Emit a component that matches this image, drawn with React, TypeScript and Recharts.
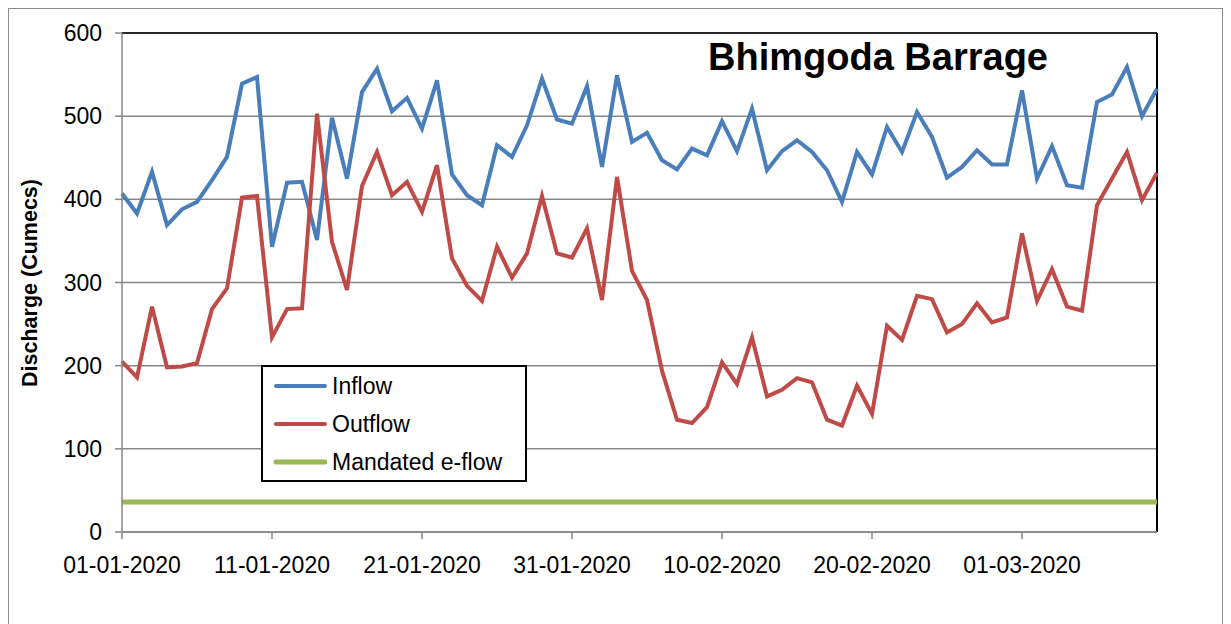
import React from 'react';
import { LineChart, Line, XAxis, YAxis, CartesianGrid, ReferenceLine, Legend } from 'recharts';

const dates = [
  '01-01-2020','02-01-2020','03-01-2020','04-01-2020','05-01-2020','06-01-2020','07-01-2020','08-01-2020','09-01-2020','10-01-2020',
  '11-01-2020','12-01-2020','13-01-2020','14-01-2020','15-01-2020','16-01-2020','17-01-2020','18-01-2020','19-01-2020','20-01-2020',
  '21-01-2020','22-01-2020','23-01-2020','24-01-2020','25-01-2020','26-01-2020','27-01-2020','28-01-2020','29-01-2020','30-01-2020',
  '31-01-2020','01-02-2020','02-02-2020','03-02-2020','04-02-2020','05-02-2020','06-02-2020','07-02-2020','08-02-2020','09-02-2020',
  '10-02-2020','11-02-2020','12-02-2020','13-02-2020','14-02-2020','15-02-2020','16-02-2020','17-02-2020','18-02-2020','19-02-2020',
  '20-02-2020','21-02-2020','22-02-2020','23-02-2020','24-02-2020','25-02-2020','26-02-2020','27-02-2020','28-02-2020','29-02-2020',
  '01-03-2020','02-03-2020','03-03-2020','04-03-2020','05-03-2020','06-03-2020','07-03-2020','08-03-2020','09-03-2020','10-03-2020',
];

const inflow = [
  407, 383, 433, 369, 388, 397, 423, 451, 539, 547, 343, 420, 421, 351, 498, 425, 529, 557,
  506, 522, 485, 543, 430, 405, 393, 465, 451, 489, 545, 496, 491, 536, 439, 549,
  469, 480, 447, 436, 461, 453, 494, 458, 509, 435, 458, 471, 457, 435, 397, 457, 430, 487,
  457, 505, 475, 426, 439, 459, 442, 442, 531, 425, 464, 417, 414, 517, 526, 559, 500, 533,
];

const outflow = [
  205, 186, 271, 198, 199, 203, 268, 293, 402, 404, 234, 268, 269, 503, 349, 291, 416, 457,
  405, 421, 385, 441, 329, 296, 278, 343, 306, 335, 404, 335, 330, 365, 279, 427,
  314, 279, 194, 135, 131, 150, 204, 178, 234, 163, 171, 185, 180, 135, 128, 176, 142, 248,
  231, 284, 280, 240, 250, 275, 252, 258, 359, 278, 316, 271, 266, 393, 425, 457, 399, 432,
];

const eflow = [
  36, 36, 36, 36, 36, 36, 36, 36, 36, 36, 36, 36, 36, 36, 36, 36, 36, 36, 36, 36,
  36, 36, 36, 36, 36, 36, 36, 36, 36, 36, 36, 36, 36, 36, 36, 36, 36, 36, 36, 36,
  36, 36, 36, 36, 36, 36, 36, 36, 36, 36, 36, 36, 36, 36, 36, 36, 36, 36, 36, 36,
  36, 36, 36, 36, 36, 36, 36, 36, 36, 36,
];

const xTicks = ['01-01-2020', '11-01-2020', '21-01-2020', '31-01-2020', '10-02-2020', '20-02-2020', '01-03-2020'];
const yTicks = [0, 100, 200, 300, 400, 500, 600];

const seriesKeys = ['inflow', 'outflow', 'eflow'];
const seriesNames = ['Inflow', 'Outflow', 'Mandated e-flow'];
const seriesColors = ['#4A7EBB', '#BE4B48', '#98B954'];
const seriesWidths = [4, 4, 5];

const data = dates.map((d, i) => ({ date: d, inflow: inflow[i], outflow: outflow[i], eflow: eflow[i] }));

const FONT = '"Liberation Sans", Arial, sans-serif';
const GRID = '#878787';

const renderLegend = () => (
  <div
    style={{
      boxSizing: 'border-box',
      width: 266,
      height: 117,
      border: '2px solid #000',
      background: '#fff',
      fontFamily: FONT,
      fontSize: 23,
      color: '#000',
    }}
  >
    {seriesNames.map((name, i) => (
      <div key={name} style={{ height: 38, display: 'flex', alignItems: 'center' }}>
        <svg width={64} height={10} style={{ display: 'block' }}>
          <line x1={13} y1={5} x2={62} y2={5} stroke={seriesColors[i]} strokeWidth={seriesWidths[i]} strokeLinecap="round" />
        </svg>
        <span style={{ marginLeft: 5, lineHeight: '38px', whiteSpace: 'nowrap' }}>{name}</span>
      </div>
    ))}
  </div>
);

export default function App() {
  return (
    <div style={{ width: 1215, height: 640, boxSizing: 'border-box', border: '1px solid #8c8c8c', background: '#fff' }}>
      <LineChart
        width={1213}
        height={630}
        data={data}
        margin={{ top: 24, left: 0, right: 65, bottom: 47 }}
        style={{ fontFamily: FONT }}
      >
        <CartesianGrid horizontal vertical={false} stroke={GRID} strokeWidth={1.5} />
        <XAxis
          dataKey="date"
          ticks={xTicks}
          interval={0}
          height={60}
          tickSize={7}
          tickMargin={18}
          axisLine={{ stroke: GRID, strokeWidth: 1.5 }}
          tickLine={{ stroke: GRID, strokeWidth: 1.5 }}
          tick={{ fill: '#000', fontSize: 23, fontFamily: FONT }}
        />
        <YAxis
          type="number"
          domain={[0, 600]}
          ticks={yTicks}
          width={113}
          tickSize={7}
          tickMargin={13}
          interval={0}
          axisLine={{ stroke: GRID, strokeWidth: 1.5 }}
          tickLine={{ stroke: GRID, strokeWidth: 1.5 }}
          tick={{ fill: '#000', fontSize: 23, fontFamily: FONT }}
        />
        <ReferenceLine y={600} stroke="#000" strokeWidth={1.5} />
        <ReferenceLine x={dates[dates.length - 1]} stroke="#000" strokeWidth={2} />
        {seriesKeys.map((k, i) => (
          <Line
            key={k}
            type="linear"
            dataKey={k}
            name={seriesNames[i]}
            stroke={seriesColors[i]}
            strokeWidth={seriesWidths[i]}
            dot={false}
            activeDot={false}
            isAnimationActive={false}
          />
        ))}
        <Legend
          layout="horizontal"
          verticalAlign="middle"
          align="center"
          wrapperStyle={{ left: 252, top: 356, width: 266, height: 117 }}
          content={renderLegend}
        />
        <text x={869} y={61} textAnchor="middle" fontFamily={FONT} fontWeight="bold" fontSize={38} fill="#000">
          Bhimgoda Barrage
        </text>
        <text
          x={28}
          y={274}
          textAnchor="middle"
          fontFamily={FONT}
          fontWeight="bold"
          fontSize={21.5}
          fill="#000"
          transform="rotate(-90, 28, 274)"
        >
          Discharge (Cumecs)
        </text>
      </LineChart>
    </div>
  );
}
